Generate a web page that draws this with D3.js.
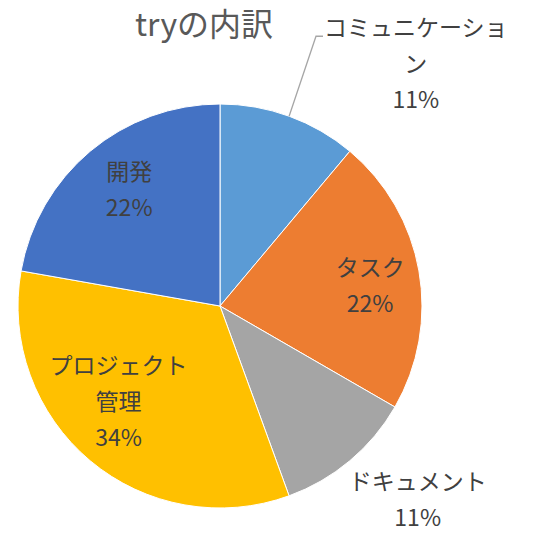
<!DOCTYPE html>
<html><head><meta charset="utf-8">
<script src="https://cdn.jsdelivr.net/npm/d3@7"></script>
<style>
html,body{margin:0;padding:0;background:#fff;}
svg{display:block;}
</style></head>
<body>
<div id="chart"></div>
<script>
// ---- data ----
const title = "tryの内訳";
const categories = ["コミュニケーション", "タスク", "ドキュメント", "プロジェクト管理", "開発"];
const values = [1, 2, 1, 3, 2];
const percentLabels = ["11%", "22%", "11%", "34%", "22%"];
const labelLines = [["コミュニケーショ", "ン"], ["タスク"], ["ドキュメント"], ["プロジェクト", "管理"], ["開発"]];

// ---- layout / style ----
const W = 536, H = 545;
const cx = 220, cy = 306, R = 202;
const colors = ["#5B9BD5", "#ED7D31", "#A5A5A5", "#FFC000", "#4472C4"];
// label block centre, polar (degrees clockwise from 12 o'clock, fraction of radius)
const labelPolar = [[39, 1.54], [82.4, 0.75], [134.4, 1.37], [226.7, 0.69], [322, 0.73]];
const lineGap = 36;
const fontFamily = "'Noto Sans CJK JP','Noto Sans',sans-serif";

const svg = d3.select("#chart").append("svg").attr("width", W).attr("height", H);

const pie = d3.pie().sort(null).value(d => d);
const arcs = pie(values);
const arc = d3.arc().innerRadius(0).outerRadius(R);

const g = svg.append("g").attr("transform", `translate(${cx},${cy})`);
g.selectAll("path.slice").data(arcs).join("path")
  .attr("class", "slice")
  .attr("d", arc)
  .attr("fill", (d, i) => colors[i])
  .attr("stroke", "#fff")
  .attr("stroke-width", 1);

function polar(angDeg, r) {
  const a = angDeg * Math.PI / 180;
  return [r * Math.sin(a), -r * Math.cos(a)];
}

arcs.forEach((d, i) => {
  const lines = labelLines[i].concat([percentLabels[i]]);
  const [lx, ly] = polar(labelPolar[i][0], labelPolar[i][1] * R);
  const top = ly - (lines.length - 1) * lineGap / 2;
  const t = g.append("text")
    .attr("text-anchor", "middle")
    .attr("font-family", fontFamily)
    .attr("font-size", 23)
    .attr("fill", "#404040");
  lines.forEach((ln, k) => {
    t.append("tspan").attr("x", lx).attr("y", top + k * lineGap).attr("dy", "0.35em").text(ln);
  });
  // leader line for the label placed away from its slice
  if (i === 0) {
    const bb = t.node().getBBox();
    const mid = (d.startAngle + d.endAngle) / 2 * 180 / Math.PI;
    const p0 = polar(mid, R);
    const endX = bb.x - 1;
    const endY = top + 8;
    const elbowX = endX - 7;
    g.append("polyline")
      .attr("points", [[p0[0], p0[1]], [elbowX, endY], [endX, endY]].map(p => p.join(",")).join(" "))
      .attr("fill", "none")
      .attr("stroke", "#A6A6A6")
      .attr("stroke-width", 1.3);
  }
});

svg.append("text")
  .attr("x", 135).attr("y", 25).attr("dy", "0.35em")
  .attr("font-family", fontFamily)
  .attr("font-size", 32)
  .attr("fill", "#595959")
  .text(title);
</script>
</body></html>
